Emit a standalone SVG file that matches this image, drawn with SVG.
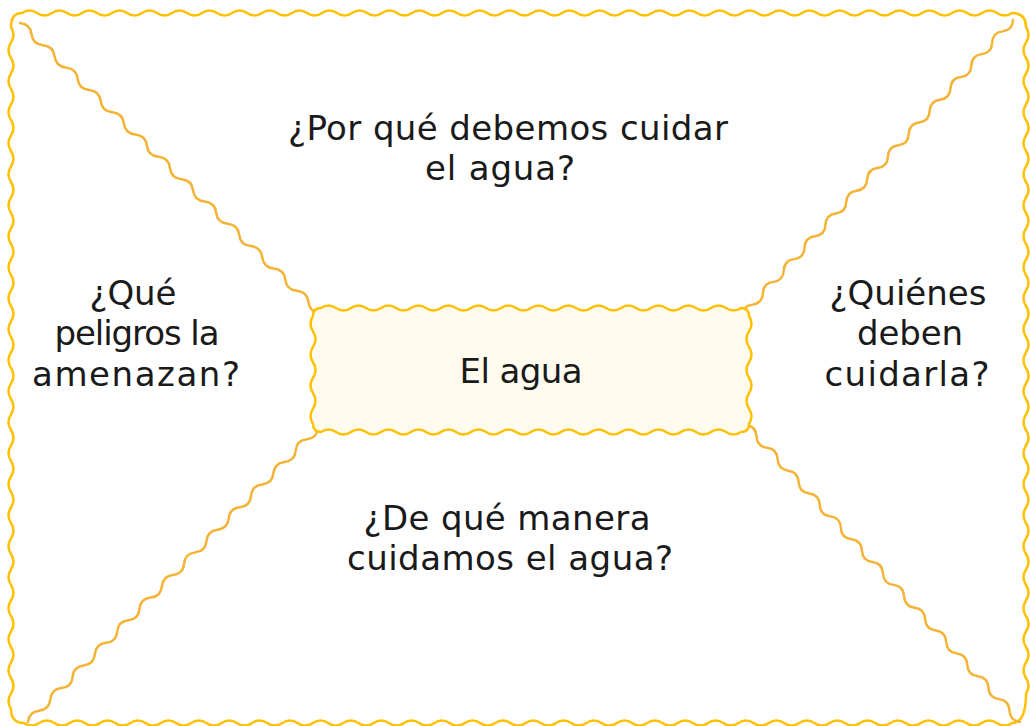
<svg xmlns="http://www.w3.org/2000/svg" xmlns:xlink="http://www.w3.org/1999/xlink" width="1030" height="726" viewBox="0 0 1030 726">
<style>
.frame{fill:none;stroke:#FFC000;stroke-width:2.5;stroke-linejoin:round;stroke-linecap:round}
.box{fill:#FFFCEF;stroke:#FFC000;stroke-width:2.5;stroke-linejoin:round}
.diag{fill:none;stroke:#F5B335;stroke-width:2.5;stroke-linecap:round}
.t{font-family:"DejaVu Sans","Liberation Sans",sans-serif;font-size:34px;fill:#1a1a1a;text-anchor:middle}
</style>
<defs>
<path id="wave" d="M0,0 q8,-6.5 16,0 t16,0 t16,0 t16,0 t16,0 t16,0 t16,0 t16,0 t16,0 t16,0 t16,0 t16,0 t16,0 t16,0 t16,0 t16,0 t16,0 t16,0 t16,0 t16,0 t16,0 t16,0 t16,0 t16,0 t16,0 t16,0"/>
</defs>
<rect width="1030" height="726" fill="#ffffff"/>
<g id="frame">
<path class="frame" d="M22,13 q7.5,-5 15,0 t15,0 t15,0 t15,0 t15,0 t15,0 t15,0 t15,0 t15,0 t15,0 t15,0 t15,0 t15,0 t15,0 t15,0 t15,0 t15,0 t15,0 t15,0 t15,0 t15,0 t15,0 t15,0 t15,0 t15,0 t15,0 t15,0 t15,0 t15,0 t15,0 t15,0 t15,0 t15,0 t15,0 t15,0 t15,0 t15,0 t15,0 t15,0 t15,0 t15,0 t15,0 t15,0 t15,0 t15,0 t15,0 t15,0 t15,0 t15,0 t15,0 t15,0 t15,0 t15,0 t15,0 t15,0 t15,0 t15,0 t15,0 t15,0 t15,0 t15,0 t15,0 t15,0 t15,0 t15,0 t15,0 Q1026,13 1026,27 q5,7.75 0,15.5 t0,15.5 t0,15.5 t0,15.5 t0,15.5 t0,15.5 t0,15.5 t0,15.5 t0,15.5 t0,15.5 t0,15.5 t0,15.5 t0,15.5 t0,15.5 t0,15.5 t0,15.5 t0,15.5 t0,15.5 t0,15.5 t0,15.5 t0,15.5 t0,15.5 t0,15.5 t0,15.5 t0,15.5 t0,15.5 t0,15.5 t0,15.5 t0,15.5 t0,15.5 t0,15.5 t0,15.5 t0,15.5 t0,15.5 t0,15.5 t0,15.5 t0,15.5 t0,15.5 t0,15.5 t0,15.5 t0,15.5 t0,15.5 t0,15.5 Q1026,723 1012,723 q-7.6,5 -15.2,0 t-15.2,0 t-15.2,0 t-15.2,0 t-15.2,0 t-15.2,0 t-15.2,0 t-15.2,0 t-15.2,0 t-15.2,0 t-15.2,0 t-15.2,0 t-15.2,0 t-15.2,0 t-15.2,0 t-15.2,0 t-15.2,0 t-15.2,0 t-15.2,0 t-15.2,0 t-15.2,0 t-15.2,0 t-15.2,0 t-15.2,0 t-15.2,0 t-15.2,0 t-15.2,0 t-15.2,0 t-15.2,0 t-15.2,0 t-15.2,0 t-15.2,0 t-15.2,0 t-15.2,0 t-15.2,0 t-15.2,0 t-15.2,0 t-15.2,0 t-15.2,0 t-15.2,0 t-15.2,0 t-15.2,0 t-15.2,0 t-15.2,0 t-15.2,0 t-15.2,0 t-15.2,0 t-15.2,0 t-15.2,0 t-15.2,0 t-15.2,0 t-15.2,0 t-15.2,0 t-15.2,0 t-15.2,0 t-15.2,0 t-15.2,0 t-15.2,0 t-15.2,0 t-15.2,0 t-15.2,0 t-15.2,0 t-15.2,0 t-15.2,0 t-15.2,0 Q11,723 11,709 q-5,-7.75 0,-15.5 t0,-15.5 t0,-15.5 t0,-15.5 t0,-15.5 t0,-15.5 t0,-15.5 t0,-15.5 t0,-15.5 t0,-15.5 t0,-15.5 t0,-15.5 t0,-15.5 t0,-15.5 t0,-15.5 t0,-15.5 t0,-15.5 t0,-15.5 t0,-15.5 t0,-15.5 t0,-15.5 t0,-15.5 t0,-15.5 t0,-15.5 t0,-15.5 t0,-15.5 t0,-15.5 t0,-15.5 t0,-15.5 t0,-15.5 t0,-15.5 t0,-15.5 t0,-15.5 t0,-15.5 t0,-15.5 t0,-15.5 t0,-15.5 t0,-15.5 t0,-15.5 t0,-15.5 t0,-15.5 t0,-15.5 t0,-15.5 t0,-15.5 Q11,13 22,13 Z"/>
</g>
<g id="connectors">
<use href="#wave" xlink:href="#wave" class="diag" transform="translate(20,23) rotate(44.04) scale(1.003,1)"/>
<use href="#wave" xlink:href="#wave" class="diag" transform="translate(1013,20) rotate(132.47) scale(0.9647,1)"/>
<use href="#wave" xlink:href="#wave" class="diag" transform="translate(318,428) rotate(134.61) scale(0.9927,1)"/>
<use href="#wave" xlink:href="#wave" class="diag" transform="translate(746,425) rotate(47.30) scale(0.9713,1)"/>
</g>
<g id="node-center">
<path class="box" d="M321,308 q7.5,-5 15,0 t15,0 t15,0 t15,0 t15,0 t15,0 t15,0 t15,0 t15,0 t15,0 t15,0 t15,0 t15,0 t15,0 t15,0 t15,0 t15,0 t15,0 t15,0 t15,0 t15,0 t15,0 t15,0 t15,0 t15,0 t15,0 t15,0 t15,0 Q749,308 749,316 q5,7.715 0,15.43 t0,15.43 t0,15.43 t0,15.43 t0,15.43 t0,15.43 t0,15.43 Q749,432 741,432 q-7.5,5 -15,0 t-15,0 t-15,0 t-15,0 t-15,0 t-15,0 t-15,0 t-15,0 t-15,0 t-15,0 t-15,0 t-15,0 t-15,0 t-15,0 t-15,0 t-15,0 t-15,0 t-15,0 t-15,0 t-15,0 t-15,0 t-15,0 t-15,0 t-15,0 t-15,0 t-15,0 t-15,0 t-15,0 Q313,432 313,424 q-5,-7.715 0,-15.43 t0,-15.43 t0,-15.43 t0,-15.43 t0,-15.43 t0,-15.43 t0,-15.43 Q313,308 321,308 Z"/>
<text class="t" x="521" y="383" textLength="123">El agua</text>
</g>
<g id="node-top">
<text class="t" x="508" y="140" textLength="440">¿Por qué debemos cuidar</text>
<text class="t" x="500" y="180" textLength="150">el agua?</text>
</g>
<g id="node-left">
<text class="t" x="133" y="305" textLength="87">¿Qué</text>
<text class="t" x="137" y="345" textLength="165">peligros la</text>
<text class="t" x="136" y="386" textLength="208">amenazan?</text>
</g>
<g id="node-right">
<text class="t" x="908" y="305" textLength="157">¿Quiénes</text>
<text class="t" x="910" y="345" textLength="106">deben</text>
<text class="t" x="907" y="386" textLength="165">cuidarla?</text>
</g>
<g id="node-bottom">
<text class="t" x="507" y="530" textLength="287">¿De qué manera</text>
<text class="t" x="510" y="570" textLength="326">cuidamos el agua?</text>
</g>
</svg>
